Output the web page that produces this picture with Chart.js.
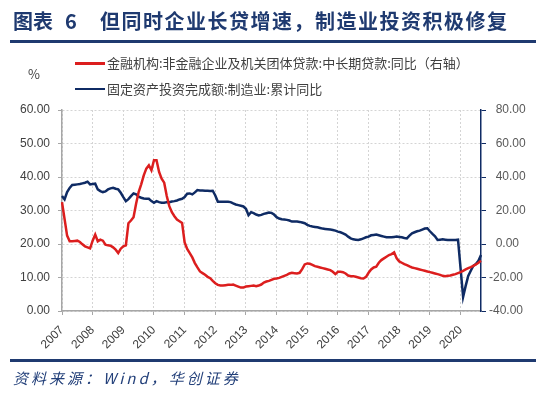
<!DOCTYPE html>
<html>
<head>
<meta charset="utf-8">
<script src="https://cdn.jsdelivr.net/npm/chart.js@4"></script>
<style>
  body { margin: 0; background: #fff; }
  #wrap { position: relative; width: 550px; height: 397px; overflow: hidden; font-family: "Noto Sans CJK SC", "Liberation Sans", sans-serif; }
  #c { position: absolute; left: 0; top: 0; }
  .abs { position: absolute; white-space: nowrap; }
  .title { top: 9px; font-size: 20px; line-height: 24px; font-weight: bold; color: #1F3A70; }
  .rule { left: 10px; width: 526px; background: #1F3A70; }
  .leg { font-size: 13px; line-height: 16px; color: #404040; }
  .swatch { height: 2.5px; width: 30px; }
  .src { left: 13px; top: 368px; font-size: 15px; line-height: 20px; font-style: italic; letter-spacing: 3px; color: #23407A; }
</style>
</head>
<body>
<div id="wrap">
  <canvas id="c" width="550" height="397"></canvas>
  <div class="abs title" style="left:13px">图表</div>
  <div class="abs title" style="left:65px">6</div>
  <div class="abs title" style="left:100px;letter-spacing:1.5px">但同时企业长贷增速，制造业投资积极修复</div>
  <div class="abs rule" style="top:40px;height:2.5px"></div>
  <div class="abs swatch" style="left:75px;top:62px;background:#DC1E1E"></div>
  <div class="abs leg" style="left:107px;top:55px">金融机构:非金融企业及机关团体贷款:中长期贷款:同比（右轴）</div>
  <div class="abs leg" style="left:28px;top:66px">%</div>
  <div class="abs swatch" style="left:75px;top:87.5px;background:#0F2B64"></div>
  <div class="abs leg" style="left:107px;top:80.5px">固定资产投资完成额:制造业:累计同比</div>
  <div class="abs rule" style="top:358.5px;height:3.2px"></div>
  <div class="abs src">资料来源：Wind，华创证券</div>
</div>
<script>
const years = ['2007', '2008', '2009', '2010', '2011', '2012', '2013', '2014', '2015', '2016', '2017', '2018', '2019', '2020'];
const lastMonth = 9; // data runs to 2020-09

const months = [];
years.forEach((y, i) => {
  const n = i === years.length - 1 ? lastMonth : 12;
  for (let m = 1; m <= n; m++) months.push(y + '-' + String(m).padStart(2, '0'));
});

// 金融机构:非金融企业及机关团体贷款:中长期贷款:同比 (left scale)
const loanGrowth = [
  32.5, 27.5, 22.5, 20.8, 20.8, 20.9, 21.0, 20.6, 19.9, 19.3, 19.0, 18.7,
  21.0, 22.8, 20.8, 21.3, 21.0, 19.8, 19.6, 19.5, 19.0, 18.3, 17.3, 18.6,
  19.3, 19.6, 26.2, 27.0, 28.0, 32.0, 35.5, 37.8, 40.5, 42.5, 43.5, 42.0,
  45.0, 45.0, 41.5, 39.5, 38.3, 34.3, 31.3, 29.5, 28.3, 27.3, 26.8, 26.3,
  20.5, 18.5, 17.3, 16.0, 14.3, 13.0, 11.8, 11.3, 10.8, 10.2, 9.8, 9.0,
  8.3, 7.8, 7.6, 7.6, 7.7, 7.8, 7.8, 7.9, 7.6, 7.3, 7.0, 7.0,
  7.3, 7.4, 7.5, 7.6, 7.4, 7.6, 7.9, 8.5, 8.8, 9.0, 9.3, 9.6,
  9.7, 9.9, 10.2, 10.5, 10.8, 11.2, 11.4, 11.3, 11.2, 11.4, 12.5, 13.9,
  14.2, 14.1, 13.8, 13.4, 13.2, 13.0, 12.8, 12.6, 12.4, 12.2, 11.7, 11.0,
  11.7, 11.7, 11.6, 11.2, 10.6, 10.4, 10.4, 10.2, 10.0, 9.8, 9.7, 10.2,
  11.4, 12.4, 13.0, 13.2, 14.4, 15.2, 15.7, 16.2, 16.7, 17.0, 17.5, 15.7,
  14.8, 14.4, 14.0, 13.7, 13.3, 13.0, 12.8, 12.6, 12.4, 12.2, 12.0, 11.8,
  11.6, 11.4, 11.2, 11.0, 10.8, 10.5, 10.4, 10.5, 10.6, 10.8, 11.0, 11.3,
  11.6, 12.0, 12.4, 12.8, 13.1, 13.5, 13.9, 14.4, 15.0
];

// 固定资产投资完成额:制造业:累计同比 (right scale)
const mfgInvest = [
  28.6, 26.6, 31.0, 33.5, 35.2, 35.4, 35.6, 35.8, 36.2, 36.6, 37.2, 35.6,
  35.8, 36.0, 32.6, 31.6, 31.0, 31.4, 32.6, 33.2, 33.6, 33.0, 32.6, 30.6,
  28.0, 25.6, 26.8, 28.6, 30.2, 29.6, 28.2, 27.6, 27.2, 27.0, 27.0, 25.6,
  24.6, 25.6, 25.0, 24.6, 24.6, 25.0, 25.0, 25.4, 25.6, 26.0, 26.6, 27.0,
  28.0, 30.0, 30.2, 29.6, 30.8, 32.2, 32.0, 32.0, 31.8, 31.8, 31.6, 31.8,
  29.0, 25.2, 25.2, 25.2, 25.2, 25.2, 25.0, 24.2, 23.6, 23.2, 22.8, 22.4,
  21.0, 17.2, 19.0, 18.4, 17.6, 17.0, 17.4, 18.0, 18.4, 18.8, 18.6, 17.6,
  16.0, 15.2, 14.8, 14.6, 14.4, 14.0, 13.4, 13.4, 13.4, 13.2, 12.8, 12.4,
  11.4, 10.8, 10.4, 10.2, 10.0, 9.6, 9.2, 9.0, 8.8, 8.6, 8.4, 8.0,
  7.4, 7.0, 6.4, 5.6, 4.4, 3.4, 2.8, 2.6, 2.4, 2.8, 3.4, 4.0,
  4.4, 5.2, 5.4, 5.6, 5.2, 4.8, 4.4, 4.0, 4.0, 4.0, 4.2, 4.4,
  4.2, 4.0, 3.6, 3.4, 5.0, 6.4, 7.0, 7.6, 8.0, 8.6, 9.2, 9.4,
  7.6, 6.0, 4.6, 2.4, 2.6, 2.8, 2.6, 2.4, 2.4, 2.4, 2.4, 2.6,
  null, -31.6, -25.0, -19.0, -16.0, -13.0, -12.0, -10.0, -6.6
];

const gridGray = '#D4D4D4';
const axisGray = '#A6A6A6';
const navy = '#0F2B64';
const tickFont = { family: '"Liberation Sans", Arial, sans-serif', size: 12 };

new Chart(document.getElementById('c'), {
  type: 'line',
  data: {
    labels: months,
    datasets: [{
      label: '金融机构:非金融企业及机关团体贷款:中长期贷款:同比（右轴）',
      data: loanGrowth,
      yAxisID: 'y',
      borderColor: '#DC1E1E',
      borderWidth: 2.5,
      pointRadius: 0,
      tension: 0
    }, {
      label: '固定资产投资完成额:制造业:累计同比',
      data: mfgInvest,
      yAxisID: 'y1',
      borderColor: navy,
      borderWidth: 2.5,
      pointRadius: 0,
      tension: 0,
      spanGaps: true
    }]
  },
  options: {
    responsive: false,
    animation: false,
    layout: { padding: { top: 110, left: 0, right: 0, bottom: 0 } },
    plugins: { legend: { display: false }, tooltip: { enabled: false } },
    scales: {
      x: {
        type: 'category',
        offset: false,
        afterBuildTicks: s => { s.ticks = s.ticks.filter(t => t.value % 12 === 0); },
        afterFit: s => { s.height = 86; },
        ticks: {
          autoSkip: false,
          minRotation: 45,
          maxRotation: 45,
          padding: 8,
          color: '#404040',
          font: tickFont,
          callback: v => years[v / 12]
        },
        grid: { color: gridGray, tickColor: axisGray, tickLength: 4, tickBorderDash: [] },
        border: { color: axisGray, width: 1.5, dash: [2, 2] }
      },
      y: {
        position: 'left',
        min: 0,
        max: 60,
        afterFit: s => { s.width = 62; },
        ticks: { stepSize: 10, padding: 8, color: '#404040', font: tickFont, callback: v => v.toFixed(2) },
        grid: { color: gridGray, tickColor: axisGray, tickLength: 4, tickBorderDash: [] },
        border: { color: axisGray, width: 1.5, dash: [2, 2] }
      },
      y1: {
        position: 'right',
        min: -40,
        max: 80,
        afterFit: s => { s.width = 69; },
        ticks: {
          stepSize: 20, padding: 3, color: '#595959', font: tickFont,
          callback: v => (v < 0 ? '' : '\u2007') + v.toFixed(2)
        },
        grid: { drawOnChartArea: false, tickColor: navy, tickLength: 5 },
        border: { color: navy, width: 1.5 }
      }
    }
  }
});
</script>
</body>
</html>
